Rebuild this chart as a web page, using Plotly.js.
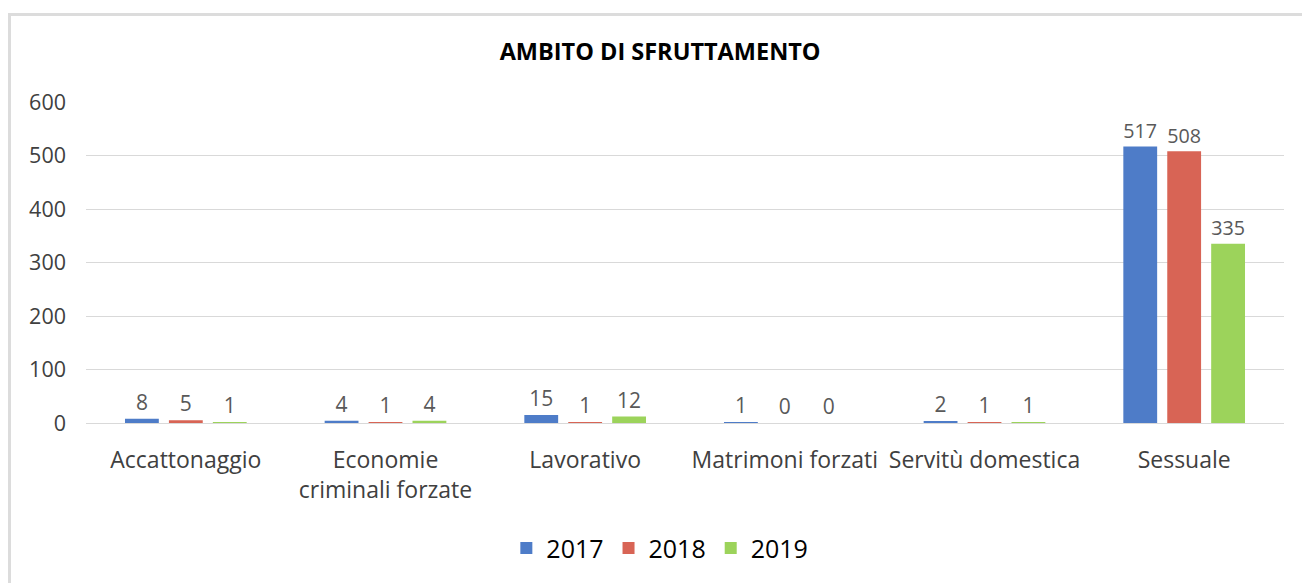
<!DOCTYPE html>
<html>
<head>
<meta charset="utf-8">
<script src="https://cdn.plot.ly/plotly-3.0.1.min.js"></script>
<style>
  html, body { margin: 0; padding: 0; background: #fff; overflow: hidden; }
  #frame { position: absolute; left: 8px; top: 13px; width: 1320px; height: 620px;
           border-top: 3px solid #dcdcdc; border-left: 3px solid #dcdcdc; }
  #chart { position: absolute; left: 0; top: 0; width: 1302px; height: 583px; }
</style>
</head>
<body>
<div id="frame"></div>
<div id="chart"></div>
<script>
const categories = ["Accattonaggio", "Economie<br>criminali forzate", "Lavorativo",
                    "Matrimoni forzati", "Servitù domestica", "Sessuale"];
const years = ["2017", "2018", "2019"];
const values2017 = [8, 4, 15, 1, 2, 517];
const values2018 = [5, 1, 1, 0, 1, 508];
const values2019 = [1, 4, 12, 0, 1, 335];
const colors = ["#4E7CC8", "#D86455", "#9CD35B"];

const FONT = "'Open Sans', 'Noto Sans', sans-serif";
const series = [values2017, values2018, values2019];

const traces = series.map((vals, i) => ({
  type: "bar",
  name: years[i],
  x: categories,
  y: vals,
  marker: { color: colors[i] },
  text: vals.map(String),
  textposition: "outside",
  textfont: { family: FONT, size: 21, color: "#595959" },
  cliponaxis: false,
  hoverinfo: "x+y+name"
}));

const layout = {
  width: 1302,
  height: 583,
  paper_bgcolor: "rgba(0,0,0,0)",
  plot_bgcolor: "rgba(0,0,0,0)",
  margin: { l: 86, r: 18, t: 102, b: 160 },
  barmode: "group",
  bargap: 0.34,
  bargroupgap: 0.23,
  title: {
    text: "<b>AMBITO DI SFRUTTAMENTO</b>",
    font: { family: FONT, size: 23.5, color: "#000" },
    x: 0.507, xanchor: "center",
    y: 0.911, yanchor: "middle", yref: "container"
  },
  font: { family: FONT, color: "#404040" },
  xaxis: {
    type: "category",
    tickfont: { family: FONT, size: 23, color: "#404040" },
    showgrid: false,
    showline: true,
    linecolor: "#d9d9d9",
    linewidth: 1,
    ticks: "",
    ticklabelstandoff: 16,
    fixedrange: true
  },
  yaxis: {
    range: [0, 600],
    dtick: 100,
    tick0: 0,
    tickfont: { family: FONT, size: 21.5, color: "#404040" },
    gridcolor: "#d9d9d9",
    gridwidth: 1,
    zeroline: false,
    showline: false,
    ticks: "",
    ticklabelstandoff: 19,
    fixedrange: true
  },
  showlegend: true,
  legend: {
    orientation: "h",
    x: 0.479, xanchor: "center",
    y: -0.39, yanchor: "middle",
    font: { family: FONT, size: 25, color: "#000" },
    itemwidth: 30,
    traceorder: "normal"
  }
};

Plotly.newPlot("chart", traces, layout, { displayModeBar: false });
</script>
</body>
</html>
